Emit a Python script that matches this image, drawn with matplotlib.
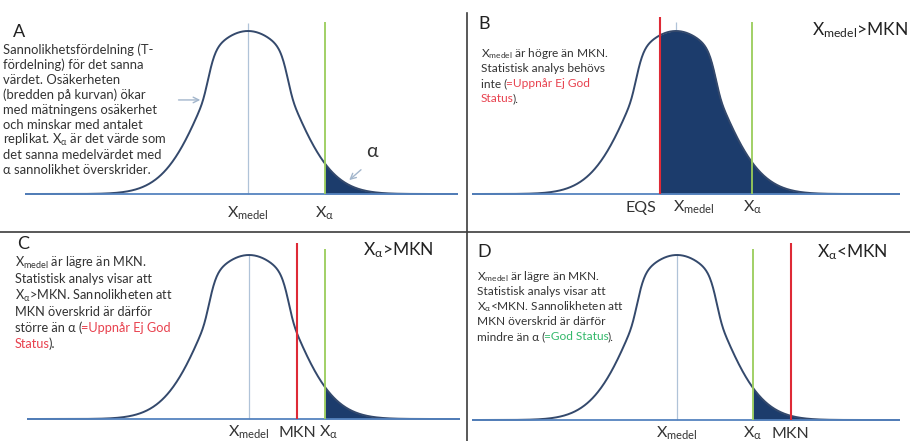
import numpy as np
import matplotlib
matplotlib.use("Agg")
import matplotlib.pyplot as plt
from matplotlib.lines import Line2D

plt.rcParams['font.family'] = ['Lato', 'DejaVu Sans']
plt.rcParams['mathtext.fontset'] = 'custom'
plt.rcParams['mathtext.rm'] = 'Lato'
plt.rcParams['mathtext.it'] = 'Lato:italic'
plt.rcParams['mathtext.bf'] = 'Lato:bold'
plt.rcParams['mathtext.fallback'] = 'stixsans'

# --- chart values (x in units of the curve's spread, 0 = X_medel) ---
panel_names = ['A', 'B', 'C', 'D']
x_medel = [0.0, 0.0, 0.0, 0.0]
x_alpha = [1.83, 1.82, 1.81, 1.81]
x_red = [None, -0.38, 1.14, 2.71]
red_names = [None, 'EQS', 'MKN', 'MKN']
shade_start = ['alpha', 'red', 'alpha', 'alpha']
corner_titles = [None, r'X$_{\mathrm{medel}}$>MKN', r'X$_{\mathrm{α}}$>MKN', r'X$_{\mathrm{α}}$<MKN']

RED_T = '#e8424f'
GREEN_T = '#33b86a'
DARK = '#333333'

text_a = [
    [('Sannolikhetsfördelning (T-', DARK)],
    [('fördelning) för det sanna', DARK)],
    [('värdet. Osäkerheten', DARK)],
    [('(bredden på kurvan) ökar', DARK)],
    [('med mätningens osäkerhet', DARK)],
    [('och minskar med antalet', DARK)],
    [(r'replikat. X$_{\mathrm{α}}$ är det värde som', DARK)],
    [('det sanna medelvärdet med', DARK)],
    [('α sannolikhet överskrider.', DARK)],
]
text_b = [
    [(r'X$_{\mathrm{medel}}$ är högre än MKN.', DARK)],
    [('Statistisk analys behövs', DARK)],
    [('inte (', DARK), ('=Uppnår Ej God', RED_T)],
    [('Status', RED_T), (').', DARK)],
]
text_c = [
    [(r'X$_{\mathrm{medel}}$ är lägre än MKN.', DARK)],
    [('Statistisk analys visar att', DARK)],
    [(r'X$_{\mathrm{α}}$>MKN. Sannolikheten att', DARK)],
    [('MKN överskrid är därför', DARK)],
    [('större än α (', DARK), ('=Uppnår Ej God', RED_T)],
    [('Status', RED_T), (').', DARK)],
]
text_d = [
    [(r'X$_{\mathrm{medel}}$ är lägre än MKN.', DARK)],
    [('Statistisk analys visar att', DARK)],
    [(r'X$_{\mathrm{α}}$<MKN. Sannolikheten att', DARK)],
    [('MKN överskrid är därför', DARK)],
    [('mindre än α (', DARK), ('=God Status', GREEN_T), (').', DARK)],
]
texts = [text_a, text_b, text_c, text_d]

# --- layout in pixels ---
W, H = 910, 441
SIG = 42.0
# left, top, right, bottom, mean_x, baseline_y, peak_y
boxes = [
    (25, 0, 458, 232, 248, 194, 31),
    (472, 0, 900, 232, 676, 194, 31),
    (27, 232, 460, 441, 249, 419, 255),
    (472, 232, 900, 441, 677, 420, 255),
]
# left, first baseline, line step, font size
text_pos = [(3, 54, 15.0, 9.4), (481, 57, 15.0, 8.6), (15, 267, 16.2, 9.2), (477, 280, 15.0, 8.6)]
letter_pos = [(13, 37), (478, 29), (17, 249), (477, 257)]
title_pos = [None, (908, 35, 'right'), (363, 255, 'left'), (817, 257, 'left')]
label_y = [218, 212, 437, 438]
green_top = [22, 22, 249, 249]
red_top = [None, 17, 243, 243]
medel_top = [23, 22, 255, 255]

CURVE = '#34496c'
FILL = '#1c3c6c'
BASE = '#5583bf'
MEDEL = '#b0c3d8'
GREEN = '#9acd5a'
RED = '#de2a36'


def bell(u):
    e = 0.5 * u ** 2 * (1 - 0.637 * np.exp(-1.6 * u ** 8))
    return np.exp(-e)


fig = plt.figure(figsize=(W / 100, H / 100), dpi=100)
renderer = fig.canvas.get_renderer()


def rich_line(x, y, segs, size):
    for s, c in segs:
        t = fig.text(x / W, 1 - y / H, s, color=c, fontsize=size, ha='left', va='baseline')
        x = t.get_window_extent(renderer=renderer).x1 - 1


for i in range(4):
    l, t, r, b, mx, by, py = boxes[i]
    unit = by - py
    ax = fig.add_axes([l / W, 1 - b / H, (r - l) / W, (b - t) / H])
    x0, x1 = (l - mx) / SIG, (r - mx) / SIG
    ax.set_xlim(x0, x1)
    ax.set_ylim((by - b) / unit, (by - t) / unit)
    ax.axis('off')

    xs = np.linspace(x0, x1, 800)
    start = x_alpha[i] if shade_start[i] == 'alpha' else x_red[i]
    xf = np.linspace(start, x1, 400)
    ax.fill_between(xf, 0, bell(xf), color=FILL, lw=0, zorder=2)
    ax.plot(xs, bell(xs), color=CURVE, lw=1.4, zorder=3)
    ax.axhline(0, color=BASE, lw=1.3, zorder=4)

    ax.vlines(x_medel[i], 0, (by - medel_top[i]) / unit, color=MEDEL, lw=0.9, zorder=1)
    ax.vlines(x_alpha[i], 0, (by - green_top[i]) / unit, color=GREEN, lw=1.3, zorder=5)
    if x_red[i] is not None:
        ax.vlines(x_red[i], 0, (by - red_top[i]) / unit, color=RED, lw=1.5, zorder=6)

    ly = (by - label_y[i]) / unit
    if i == 1:
        ax.text(x_medel[i] - 0.07, ly, r'X$_{\mathrm{medel}}$', fontsize=11.5,
                color=DARK, ha='left', va='baseline')
    else:
        ax.text(x_medel[i], ly, r'X$_{\mathrm{medel}}$', fontsize=11.5,
                color=DARK, ha='center', va='baseline')
    if i == 2:
        ax.text(x_alpha[i] - 0.14, ly, r'X$_{\mathrm{α}}$', fontsize=11.5, color=DARK,
                ha='left', va='baseline')
    else:
        ax.text(x_alpha[i], ly, r'X$_{\mathrm{α}}$', fontsize=11.5, color=DARK,
                ha='center', va='baseline')
    if x_red[i] is not None:
        if i == 1:
            ax.text(x_red[i] - 0.1, ly, red_names[i], fontsize=11.5, color=DARK, ha='right', va='baseline')
        else:
            ax.text(x_red[i], ly, red_names[i], fontsize=11.5, color=DARK, ha='center', va='baseline')

    if i == 0:
        # alpha marker and the pointer to the curve
        ax.annotate('', xy=(2.36, 0.074), xytext=(2.74, 0.16),
                    arrowprops=dict(arrowstyle='->', color='#a3b6cc', lw=1.0))
        ax.text(2.95, 0.258, 'α', fontsize=14, color=DARK, ha='center', va='center')
        ax.annotate('', xy=(-1.07, 0.577), xytext=(-1.72, 0.577),
                    arrowprops=dict(arrowstyle='->', color='#a3b6cc', lw=1.0))

    lx, lyy = letter_pos[i]
    fig.text(lx / W, 1 - lyy / H, panel_names[i], fontsize=13, color='#222222', ha='left', va='baseline')
    if title_pos[i] is not None:
        tx, ty, tha = title_pos[i]
        fig.text(tx / W, 1 - ty / H, corner_titles[i], fontsize=12.5, color='#222222', ha=tha, va='baseline')

    tx0, ty0, step, fs = text_pos[i]
    for k, segs in enumerate(texts[i]):
        rich_line(tx0, ty0 + k * step, segs, fs)

# panel dividers
fig.add_artist(Line2D([467 / W, 467 / W], [0, 1 - 13 / H], color='#3c3c3c', lw=1.2))
fig.add_artist(Line2D([0, 1], [1 - 232 / H, 1 - 232 / H], color='#3c3c3c', lw=1.2))

fig.savefig('out.png', dpi=100)
